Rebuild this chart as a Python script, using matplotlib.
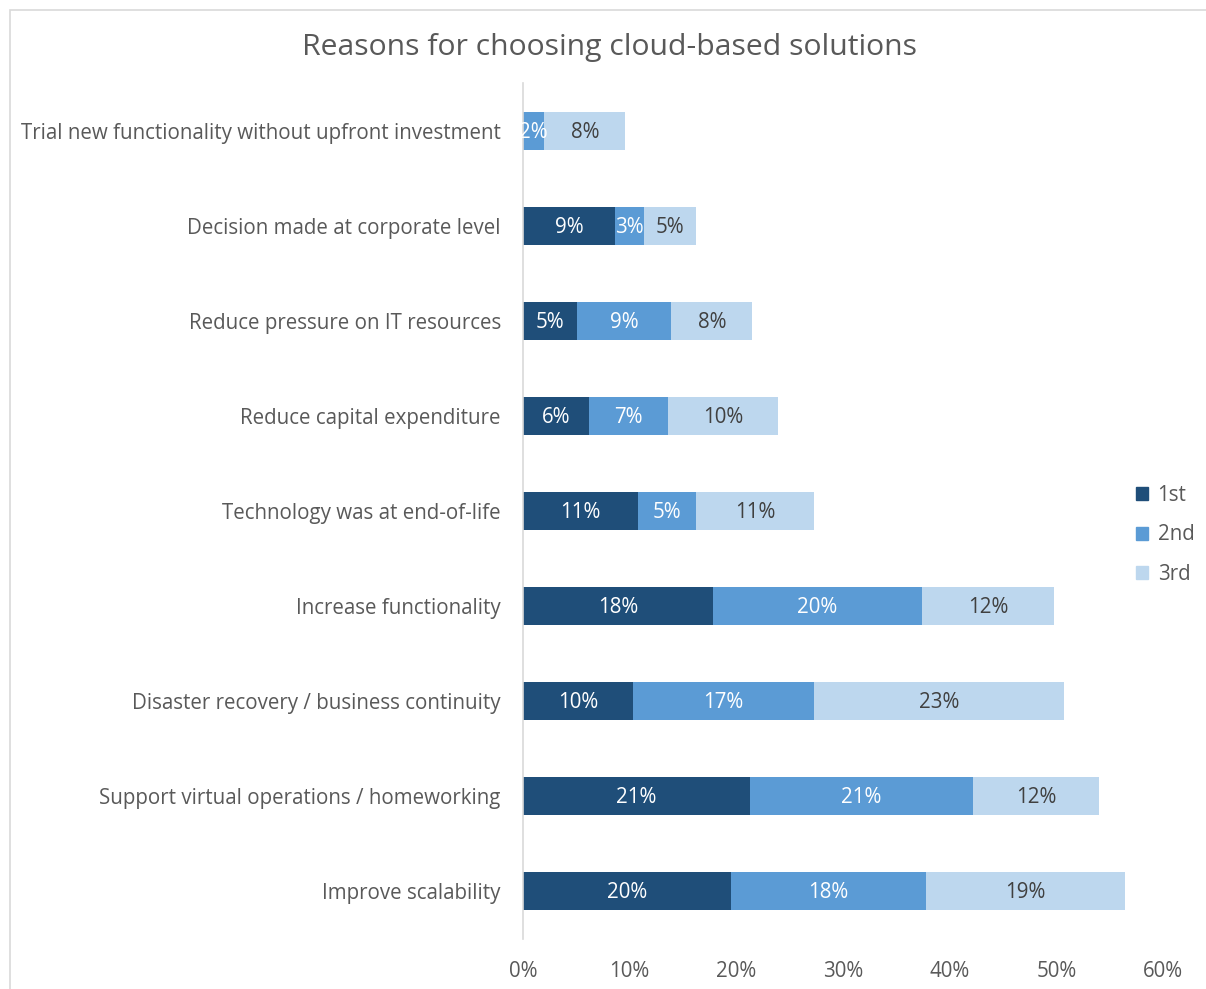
import matplotlib
matplotlib.use("Agg")
import matplotlib.pyplot as plt
from matplotlib.patches import Rectangle, Patch
from matplotlib.ticker import FuncFormatter

categories = [
    "Trial new functionality without upfront investment",
    "Decision made at corporate level",
    "Reduce pressure on IT resources",
    "Reduce capital expenditure",
    "Technology was at end-of-life",
    "Increase functionality",
    "Disaster recovery / business continuity",
    "Support virtual operations / homeworking",
    "Improve scalability",
]
first = [0.0, 8.6, 5.1, 6.2, 10.8, 17.8, 10.3, 21.3, 19.5]
second = [2.0, 2.7, 8.8, 7.4, 5.4, 19.6, 17.0, 20.9, 18.3]
third = [7.6, 4.9, 7.6, 10.3, 11.1, 12.4, 23.4, 11.8, 18.6]
series_names = ["1st", "2nd", "3rd"]
xticks = [0, 10, 20, 30, 40, 50, 60]

colors = ["#1F4E79", "#5B9BD5", "#BDD7EE"]
label_colors = ["white", "white", "#404040"]
FONT = "Open Sans"
TXT = "#595959"
FS = 14.8

fig = plt.figure(figsize=(12.06, 9.89), dpi=100)
fig.patches.append(Rectangle((10 / 1206, -0.1), 1.2, 1 - 10 / 989 + 0.1,
                             transform=fig.transFigure, fill=False,
                             edgecolor="#D9D9D9", linewidth=1.2))
ax = fig.add_axes([523 / 1206, 1 - 938.5 / 989, (1163 - 523) / 1206, (938.5 - 83.5) / 989])

y = list(range(len(categories)))
left = [0.0] * len(categories)
for vals, c, lc, name in zip([first, second, third], colors, label_colors, series_names):
    ax.barh(y, vals, left=left, height=0.4, color=c, label=name)
    for yi, v, l in zip(y, vals, left):
        if v > 0:
            ax.text(l + v / 2, yi + 0.02, f"{v:.0f}%", ha="center", va="center",
                    color=lc, fontsize=FS, family=FONT)
    left = [a + b for a, b in zip(left, vals)]

ax.set_ylim(len(categories) - 0.5, -0.5)
ax.set_xlim(0, 60)
ax.set_yticks(y)
ax.set_yticklabels(categories, fontsize=FS, family=FONT, color=TXT)
ax.set_xticks(xticks)
ax.xaxis.set_major_formatter(FuncFormatter(lambda v, p: f"{v:.0f}%"))
for t in ax.get_xticklabels():
    t.set_fontsize(FS)
    t.set_family(FONT)
    t.set_color(TXT)
ax.tick_params(axis="both", length=0)
ax.tick_params(axis="y", pad=16)
ax.tick_params(axis="x", pad=16)
for s in ["top", "right", "bottom"]:
    ax.spines[s].set_visible(False)
ax.spines["left"].set_color("#D9D9D9")
ax.spines["left"].set_linewidth(1.2)

fig.text(609 / 1206, 1 - 48 / 989, "Reasons for choosing cloud-based solutions",
         ha="center", va="center", fontsize=21.7, family=FONT, color=TXT)

handles = [Patch(color=c) for c in colors]
leg = fig.legend(handles, series_names, loc="center left",
                 bbox_to_anchor=(1136 / 1206, 1 - 535 / 989), frameon=False,
                 prop={"family": FONT, "size": FS}, handlelength=0.6,
                 handleheight=0.6, handletextpad=0.45, labelspacing=0.9,
                 borderaxespad=0, borderpad=0)
for t in leg.get_texts():
    t.set_color(TXT)

fig.savefig("out.png", dpi=100)
